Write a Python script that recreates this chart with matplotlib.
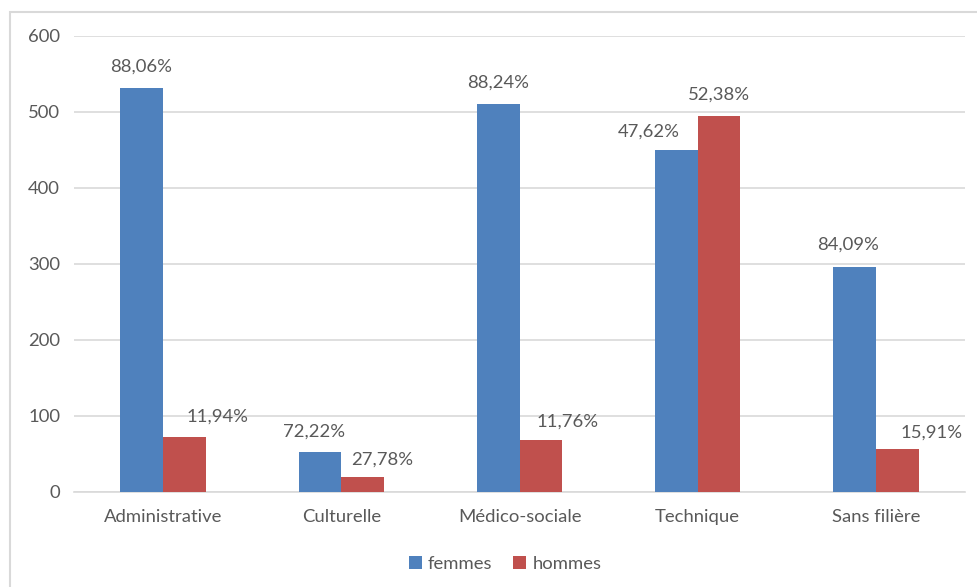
import matplotlib
matplotlib.use("Agg")
import matplotlib.pyplot as plt
import numpy as np
from matplotlib.patches import Rectangle

plt.rcParams['font.family'] = ['Lato', 'DejaVu Sans']

categories = ["Administrative", "Culturelle", "Médico-sociale", "Technique", "Sans filière"]
femmes = [531, 52, 510, 450, 296]
hommes = [72, 20, 68, 495, 56]
femmes_labels = ["88,06%", "72,22%", "88,24%", "47,62%", "84,09%"]
hommes_labels = ["11,94%", "27,78%", "11,76%", "52,38%", "15,91%"]

# label offsets in pixels relative to the top centre of each bar
femmes_offsets = [(-1, 22), (-6, 21), (0, 22), (-28, 18), (-6, 22)]
hommes_offsets = [(33, 21), (20, 17), (27, 19), (0, 21), (34, 17)]

BLUE = "#4f81bd"
RED = "#c0504d"
TEXT = "#595959"
GRID = "#d9d9d9"
FS = 13.3

fig = plt.figure(figsize=(9.77, 5.87), dpi=100)
ax = fig.add_axes([74 / 977, 95 / 587, (965 - 74) / 977, (551 - 95) / 587])

x = np.arange(len(categories))
w = 0.24
b1 = ax.bar(x - w / 2, femmes, w, color=BLUE, label="femmes", zorder=3)
b2 = ax.bar(x + w / 2, hommes, w, color=RED, label="hommes", zorder=3)

for bars, labels, offs in ((b1, femmes_labels, femmes_offsets), (b2, hommes_labels, hommes_offsets)):
    for r, lab, (dx, dy) in zip(bars, labels, offs):
        ax.annotate(lab, (r.get_x() + r.get_width() / 2, r.get_height()),
                    xytext=(dx, dy), textcoords="offset pixels",
                    ha="center", va="center", fontsize=FS, color=TEXT)

ax.set_xlim(-0.5, len(categories) - 0.5)
ax.set_ylim(0, 600)
ax.set_yticks(range(0, 601, 100))
ax.set_xticks(x)
ax.set_xticklabels(categories)
ax.tick_params(axis="both", length=0, labelsize=FS, colors=TEXT)
ax.tick_params(axis="y", pad=10)
ax.tick_params(axis="x", pad=12)
ax.yaxis.grid(True, color=GRID, linewidth=1.2, zorder=0)
for s in ("top", "right", "left"):
    ax.spines[s].set_visible(False)
ax.spines["bottom"].set_color(GRID)
ax.spines["bottom"].set_linewidth(1.2)

leg = fig.legend(handles=[b1, b2], loc="center", bbox_to_anchor=(505 / 977, 1 - 564 / 587),
                 ncol=2, frameon=False, fontsize=FS, handlelength=0.7, handleheight=0.7,
                 handletextpad=0.35, columnspacing=1.1)
for t in leg.get_texts():
    t.set_color(TEXT)

# outer chart border
fig.patches.append(Rectangle((10 / 977, -0.05), 1.2, 1 - 12 / 587 + 0.05,
                             transform=fig.transFigure, fill=False,
                             edgecolor=GRID, linewidth=1.5))

fig.savefig("out.png", dpi=100)
